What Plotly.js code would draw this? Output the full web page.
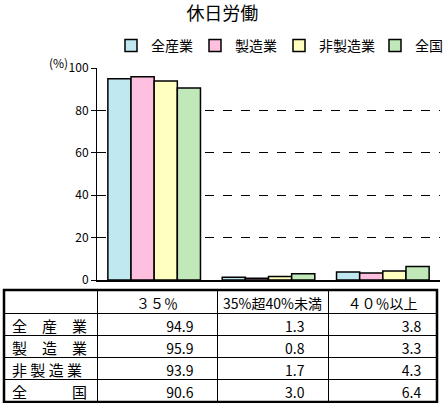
<!DOCTYPE html>
<html><head><meta charset="utf-8">
<script src="https://cdn.plot.ly/plotly-3.0.1.min.js"></script>
<style>html,body{margin:0;padding:0;background:#fff}</style>
</head><body>
<div id="chart" style="width:443px;height:403px"></div>
<script>
var categories = ['３５％', '35%超40%未満', '４０％以上'];
var seriesNames = ['全産業', '製造業', '非製造業', '全国'];
var rowLabels = ['全　産　業', '製　造　業', '非\u00a0製\u00a0造\u00a0業', '全　　　国'];
var zensangyo = [94.9, 1.3, 3.8];
var seizogyo = [95.9, 0.8, 3.3];
var hiseizogyo = [93.9, 1.7, 4.3];
var zenkoku = [90.6, 3.0, 6.4];
var yTicks = [0, 20, 40, 60, 80, 100];

var series = [zensangyo, seizogyo, hiseizogyo, zenkoku];
var colors = ['#c0e8f0', '#ffc0e0', '#ffffc0', '#c0e8b8'];
var legendWidths = [39, 39, 51, 30];
var FONT = '"Noto Sans CJK JP", "Noto Sans", sans-serif';
var W = 443, H = 403;

var traces = series.map(function (vals, i) {
  return {
    type: 'bar', name: seriesNames[i], x: categories, y: vals,
    marker: {color: colors[i], line: {color: '#000', width: 1.5}},
    legendwidth: legendWidths[i],
    hoverinfo: 'skip'
  };
});

// table columns: row labels, then one column per category
var colVals = [rowLabels];
categories.forEach(function (c, ci) {
  colVals.push(series.map(function (s) { return s[ci]; }));
});

traces.push({
  type: 'table',
  domain: {x: [4 / W, 437 / W], y: [0, (H - 290) / H]},
  columnwidth: [93, 120, 111, 109],
  header: {
    values: [''].concat(categories),
    align: 'center',
    height: 23,
    fill: {color: '#fff'},
    line: {color: '#000', width: 1},
    font: {family: FONT, size: 14, color: '#000'}
  },
  cells: {
    values: colVals,
    align: ['left', 'right', 'right', 'right'],
    format: ['', '.1f', '.1f', '.1f'],
    suffix: ['', '\u2007\u2007', '\u2007\u2007', '\u2007'],
    height: 22,
    fill: {color: '#fff'},
    line: {color: '#000', width: 1},
    font: {family: FONT, size: [15, 14, 14, 14], color: '#000'}
  }
});

var layout = {
  width: W, height: H,
  margin: {l: 0, r: 0, t: 0, b: 0, autoexpand: false},
  paper_bgcolor: '#fff', plot_bgcolor: '#fff',
  font: {family: FONT, color: '#000', size: 12},
  title: {text: '休日労働', x: 0.502, xanchor: 'center', y: 1 - 14 / H, yref: 'container', yanchor: 'middle',
          font: {family: FONT, size: 18, color: '#000'}},
  barmode: 'group', bargap: 0.19, bargroupgap: 0,
  showlegend: true,
  legend: {orientation: 'h', x: 111 / W, xanchor: 'left', y: (H - 46) / H, yanchor: 'middle',
           font: {family: FONT, size: 14, color: '#000'}, bgcolor: 'rgba(0,0,0,0)', traceorder: 'normal'},
  xaxis: {domain: [97 / W, 440 / W], showticklabels: false, ticks: '', showline: true, linecolor: '#000',
          linewidth: 2, showgrid: false, zeroline: false, fixedrange: true, automargin: false},
  yaxis: {domain: [(H - 280) / H, (H - 68) / H], range: [0, 100], tickvals: yTicks, ticks: 'outside', ticklen: 5,
          tickcolor: '#000', showline: true, linecolor: '#000', linewidth: 1, showgrid: true,
          gridcolor: '#000', gridwidth: 1, griddash: 'dash', zeroline: false, automargin: false,
          tickfont: {family: FONT, size: 12, color: '#000'}, fixedrange: true},
  annotations: [{text: '(%)', xref: 'paper', yref: 'paper', x: 58 / W, y: (H - 62) / H, showarrow: false,
                 xanchor: 'center', yanchor: 'middle', font: {family: FONT, size: 12, color: '#000'}}],
  shapes: [{type: 'rect', xref: 'paper', yref: 'paper', x0: 4 / W, x1: 437 / W, y0: 1 / H, y1: (H - 290) / H,
            line: {color: '#000', width: 2.5}, layer: 'above'}]
};

Plotly.newPlot('chart', traces, layout, {displayModeBar: false, staticPlot: true});
</script>
</body></html>
